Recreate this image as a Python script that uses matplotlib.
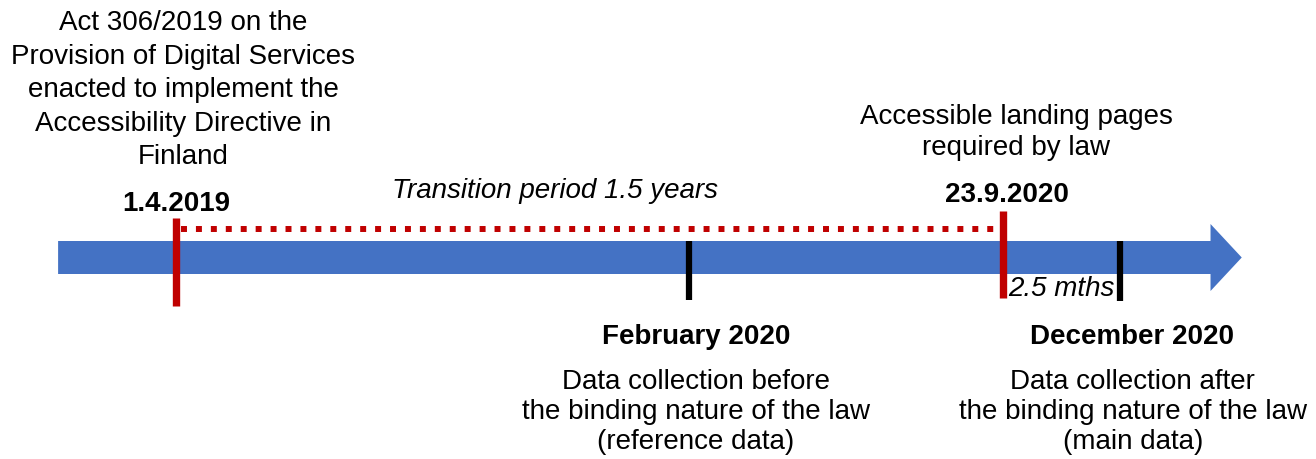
import matplotlib.pyplot as plt
from matplotlib.patches import Polygon

plt.rcParams['font.family'] = ['Liberation Sans', 'DejaVu Sans']

# timeline positions, in months counted from January 2019
law_start = 3.0      # 1.4.2019
law_binding = 20.75  # 23.9.2020
feb_data = 14.0      # February 2020 collection
dec_data = 23.25     # December 2020 collection
line_start = 0.47
line_end = 25.2
tip_end = 25.87

top_left_lines = ["Act 306/2019 on the", "Provision of Digital Services",
                  "enacted to implement the", "Accessibility Directive in", "Finland"]
top_right_lines = ["Accessible landing pages", "required by law"]
feb_lines = ["Data collection before", "the binding nature of the law", "(reference data)"]
dec_lines = ["Data collection after", "the binding nature of the law", "(main data)"]

blue = '#4472C4'
red = '#C00000'
fs = 20

fig = plt.figure(figsize=(13.16, 4.6), dpi=100)
ax = fig.add_axes([0, 0, 1, 1])
px = 46.6  # pixels per month
ax.set_xlim(law_start - 176 / px, law_start + 1140 / px)
ax.set_ylim(460, 0)
ax.axis('off')

# blue arrow
arrow = Polygon([(line_start, 242), (line_end, 242), (line_end, 225), (tip_end, 258.5),
                 (line_end, 292), (line_end, 275), (line_start, 275)],
                closed=True, facecolor=blue, edgecolor='none', zorder=1)
ax.add_patch(arrow)

# transition period
ax.plot([law_start + 0.1, law_binding], [230, 230], color=red, lw=4.3, ls=(0, (1, 1.5)),
        solid_capstyle='butt', zorder=2)
ax.plot([law_start, law_start], [219, 307], color=red, lw=5.3, solid_capstyle='butt', zorder=3)
ax.plot([law_binding, law_binding], [212, 299], color=red, lw=5.3, solid_capstyle='butt', zorder=3)
ax.plot([feb_data, feb_data], [242, 301], color='black', lw=4.5, solid_capstyle='butt', zorder=3)
ax.plot([dec_data, dec_data], [242, 302], color='black', lw=4.5, solid_capstyle='butt', zorder=3)

ax.text(law_start, 204, "1.4.2019", ha='center', va='center', fontsize=fs, fontweight='bold')
ax.text(law_binding + 0.08, 195, "23.9.2020", ha='center', va='center', fontsize=fs, fontweight='bold')
ax.text((law_start + law_binding) / 2 - 0.74, 191, "Transition period 1.5 years",
        ha='center', va='center', fontsize=fs, style='italic')
ax.text((law_binding + dec_data) / 2, 289, "2.5 mths", ha='center', va='center',
        fontsize=fs, style='italic')

for i, s in enumerate(top_left_lines):
    ax.text(law_start + 0.15, 23 + i * 33.6, s, ha='center', va='center', fontsize=20)
for i, s in enumerate(top_right_lines):
    ax.text(law_binding + 0.28, 117 + i * 31, s, ha='center', va='center', fontsize=fs)

ax.text(feb_data + 0.17, 337, "February 2020", ha='center', va='center', fontsize=fs, fontweight='bold')
ax.text(dec_data + 0.27, 337, "December 2020", ha='center', va='center', fontsize=fs, fontweight='bold')
for i, s in enumerate(feb_lines):
    ax.text(feb_data + 0.15, 382 + i * 30, s, ha='center', va='center', fontsize=fs)
for i, s in enumerate(dec_lines):
    ax.text(dec_data + 0.28, 382 + i * 30, s, ha='center', va='center', fontsize=fs)

fig.savefig('out.png', dpi=100)
